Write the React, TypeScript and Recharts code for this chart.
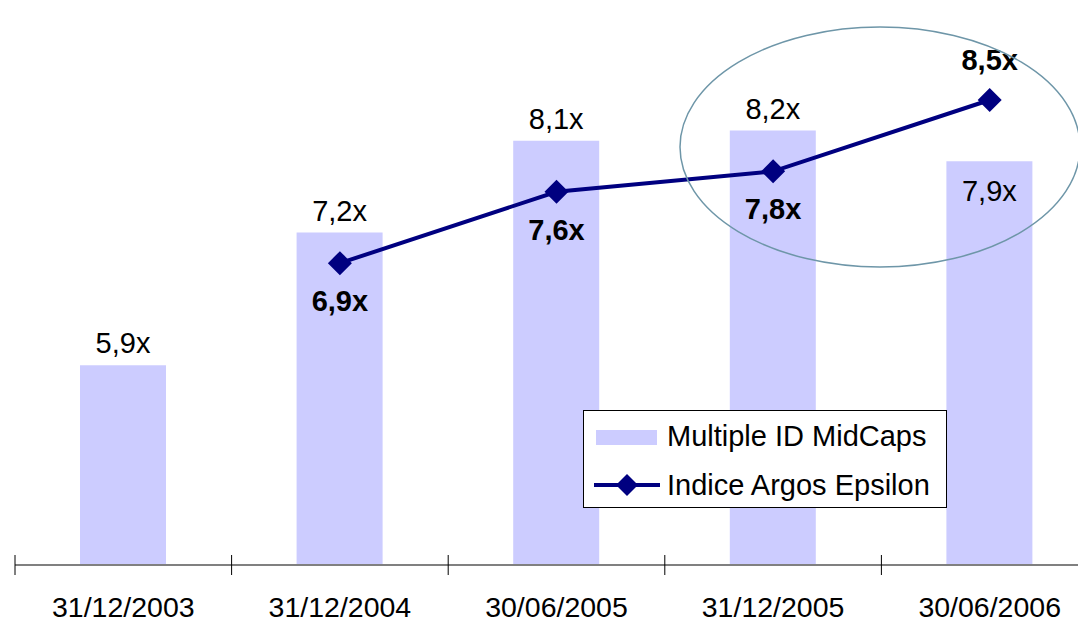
import React from 'react';
import {
  ComposedChart, Bar, Line, XAxis, YAxis, Legend, LabelList,
} from 'recharts';

const categories = ['31/12/2003', '31/12/2004', '30/06/2005', '31/12/2005', '30/06/2006'];
const midcaps = [5.9, 7.2, 8.1, 8.2, 7.9];
const argos = [null, 6.9, 7.6, 7.8, 8.5];

const data = categories.map((date, i) => ({ date, midcaps: midcaps[i], argos: argos[i] }));

const W = 1100;
const H = 622;
const MARGIN = { top: 49, right: 2, bottom: 7, left: 15 };
const BAND = (W - MARGIN.left - MARGIN.right) / categories.length;
const AXIS_Y = 565;
const FONT = '"Liberation Sans", Arial, sans-serif';
const BAR_COLOR = '#ccccff';
const LINE_COLOR = '#000080';

const fmt = (v: number) => v.toFixed(1).replace('.', ',') + 'x';

const AxisTick = (props: any) => {
  const { x, payload, index } = props;
  const last = index === categories.length - 1;
  return (
    <g>
      <line x1={x - BAND / 2} x2={x - BAND / 2} y1={AXIS_Y - 10} y2={AXIS_Y + 10} stroke="#000" strokeWidth={1} />
      {last && <line x1={x + BAND / 2} x2={x + BAND / 2} y1={AXIS_Y - 10} y2={AXIS_Y + 10} stroke="#000" strokeWidth={1} />}
      <text x={x} y={AXIS_Y + 42} textAnchor="middle" dominantBaseline="central" fontSize={28.5} fill="#000" fontFamily={FONT}>
        {payload.value}
      </text>
    </g>
  );
};

const BarLabel = (props: any) => {
  const { x, y, width, value, index } = props;
  const inside = index === midcaps.length - 1;
  return (
    <text x={x + width / 2} y={inside ? y + 30 : y - 22} textAnchor="middle" dominantBaseline="central"
      fontSize={29} fill="#000" fontFamily={FONT}>
      {fmt(value)}
    </text>
  );
};

const LineLabel = (props: any) => {
  const { x, y, value, index } = props;
  if (value == null) return null;
  const above = index === argos.length - 1;
  return (
    <text x={x} y={above ? y - 40 : y + 38} textAnchor="middle" dominantBaseline="central"
      fontSize={29} fontWeight="bold" fill="#000" fontFamily={FONT}>
      {fmt(value)}
    </text>
  );
};

const Diamond = (props: any) => {
  const { cx, cy, index } = props;
  if (cx == null || cy == null) return <g key={index} />;
  const r = 12;
  return (
    <polygon key={index} points={`${cx},${cy - r} ${cx + r},${cy} ${cx},${cy + r} ${cx - r},${cy}`} fill={LINE_COLOR} />
  );
};

const LegendBox = () => (
  <div style={{
    width: 364, height: 98, border: '1px solid #000', background: '#fff',
    fontFamily: FONT, fontSize: 29, color: '#000', boxSizing: 'border-box', position: 'relative', textAlign: 'left',
  }}>
    <div style={{ position: 'absolute', left: 12, top: 19, width: 61, height: 15, background: BAR_COLOR }} />
    <div style={{ position: 'absolute', left: 83, top: 8, lineHeight: '34px', whiteSpace: 'nowrap' }}>Multiple ID MidCaps</div>
    <svg style={{ position: 'absolute', left: 8, top: 60 }} width={70} height={28}>
      <line x1={2} x2={68} y1={14} y2={14} stroke={LINE_COLOR} strokeWidth={4} />
      <polygon points="35,3 46,14 35,25 24,14" fill={LINE_COLOR} />
    </svg>
    <div style={{ position: 'absolute', left: 83, top: 57, lineHeight: '34px', whiteSpace: 'nowrap' }}>Indice Argos Epsilon</div>
  </div>
);

export default function App() {
  return (
    <div style={{ position: 'absolute', left: 0, top: 0, width: 1078, height: 622, overflow: 'hidden', background: '#fff' }}>
      <ComposedChart width={W} height={H} data={data} margin={MARGIN}>
        <XAxis dataKey="date" height={50} tick={<AxisTick />} tickLine={false} tickSize={0}
          axisLine={{ stroke: '#808080', strokeWidth: 2 }} interval={0} />
        <YAxis hide domain={[3.94, 9]} />
        <Bar dataKey="midcaps" fill={BAR_COLOR} barSize={86} isAnimationActive={false}>
          <LabelList dataKey="midcaps" content={<BarLabel />} />
        </Bar>
        <Line dataKey="argos" stroke={LINE_COLOR} strokeWidth={4} dot={<Diamond />} activeDot={false}
          isAnimationActive={false} connectNulls>
          <LabelList dataKey="argos" content={<LineLabel />} />
        </Line>
        <Legend content={<LegendBox />} layout="horizontal" verticalAlign="middle" align="center"
          wrapperStyle={{ position: 'absolute', left: 583, top: 410, width: 364, height: 98 }} />
      </ComposedChart>
      <svg style={{ position: 'absolute', left: 0, top: 0, pointerEvents: 'none' }} width={1078} height={622}>
        <ellipse cx={880} cy={147} rx={200} ry={120} fill="none" stroke="#6e96a8" strokeWidth={1.5} />
      </svg>
    </div>
  );
}
